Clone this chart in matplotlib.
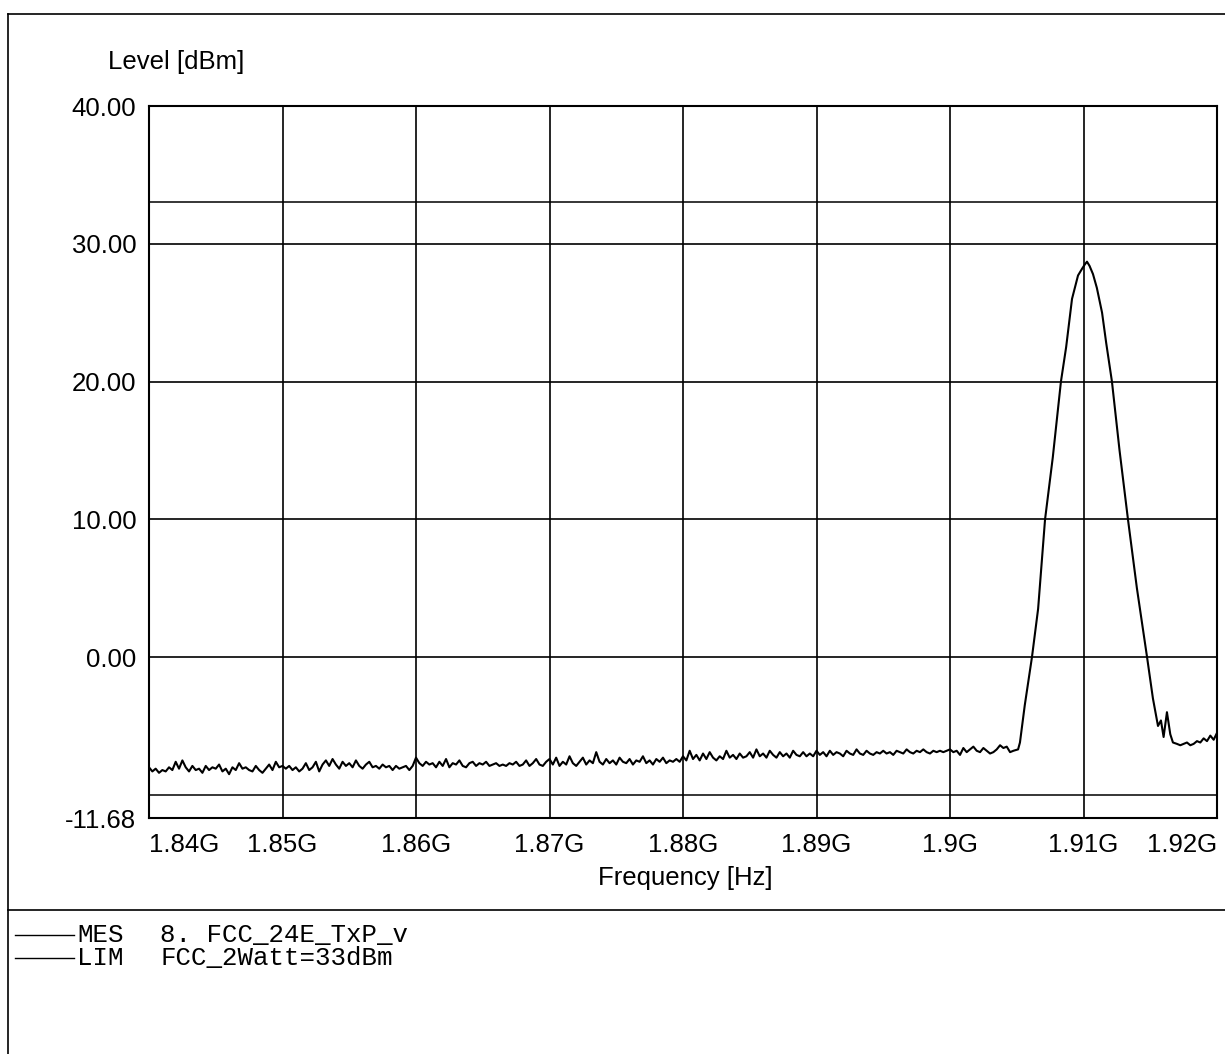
#!/usr/bin/python3

# Transmitter power sweep around 1.91 GHz with the FCC 2 W limit line

import matplotlib
matplotlib.use("Agg")
import matplotlib.pyplot as plt
from matplotlib.lines import Line2D
import numpy as np

# noise floor, 1.840 .. 1.905 GHz in 0.25 MHz steps
floor_start = 1.840e9
floor_step = 0.25e6
floor_level = [
    -8.0, -8.3, -8.1, -8.4, -8.2, -8.3, -8.0, -8.2, -7.6, -8.1, -7.5, -8.0, -8.3, -7.9, -8.2, -8.1, -8.4, -7.9, -8.2, -8.0,
    -8.1, -7.8, -8.3, -8.1, -8.5, -8.0, -8.2, -7.7, -8.1, -8.0, -8.2, -8.3, -7.9, -8.2, -8.4, -8.1, -7.8, -8.2, -7.6, -8.0,
    -7.9, -8.1, -7.9, -8.2, -8.0, -8.3, -8.1, -7.7, -8.2, -8.0, -7.6, -8.3, -7.8, -7.5, -7.9, -7.4, -7.8, -8.1, -7.6, -7.9,
    -7.7, -8.0, -7.5, -7.9, -8.1, -7.8, -7.6, -8.0, -7.9, -8.1, -7.8, -8.0, -7.9, -8.2, -7.9, -8.1, -8.0, -7.9, -8.2, -7.9,
    -7.3, -7.7, -7.9, -7.6, -7.8, -7.7, -8.0, -7.6, -7.9, -7.4, -8.0, -7.7, -7.8, -7.5, -7.9, -8.0, -7.7, -7.6, -7.9, -7.7,
    -7.8, -7.6, -7.9, -7.8, -7.7, -7.9, -7.8, -7.9, -7.7, -7.8, -7.6, -7.9, -7.8, -7.5, -7.9, -7.7, -7.4, -7.8, -7.9, -7.6,
    -7.4, -7.8, -7.3, -7.9, -7.6, -7.8, -7.2, -7.7, -7.9, -7.6, -7.3, -7.8, -7.5, -7.7, -6.9, -7.6, -7.8, -7.4, -7.7, -7.5,
    -7.8, -7.3, -7.6, -7.7, -7.4, -7.8, -7.5, -7.6, -7.2, -7.7, -7.5, -7.8, -7.4, -7.6, -7.3, -7.7, -7.5, -7.6, -7.4, -7.6,
    -7.2, -7.5, -6.8, -7.4, -7.1, -7.5, -7.0, -7.4, -6.9, -7.3, -7.5, -7.2, -7.4, -6.8, -7.3, -7.1, -7.4, -7.0, -7.3, -7.2,
    -6.9, -7.3, -6.7, -7.2, -7.0, -7.3, -6.8, -7.1, -7.3, -6.9, -7.2, -7.0, -7.3, -6.8, -7.1, -7.2, -6.9, -7.2, -7.0, -7.2,
    -6.8, -7.1, -6.9, -7.2, -6.8, -7.1, -6.9, -7.0, -7.2, -6.8, -7.0, -7.1, -6.7, -7.0, -7.1, -6.8, -7.0, -7.1, -6.9, -7.0,
    -6.8, -7.0, -6.9, -7.1, -6.8, -6.9, -7.0, -6.7, -6.9, -7.0, -6.8, -6.9, -6.7, -6.9, -7.0, -6.8, -6.9, -6.8, -6.9, -6.8,
    -6.7, -6.9, -6.8, -7.1, -6.6, -6.9, -6.7, -6.5, -6.8, -6.9, -6.6, -6.8, -7.0, -6.9, -6.7, -6.4, -6.6, -6.5, -6.9, -6.8,
]

# carrier and upper skirt
peak_freq = [
    1.90510e9, 1.90524e9, 1.90560e9, 1.90614e9, 1.90660e9, 1.90712e9, 1.90770e9, 1.90831e9,
    1.90870e9, 1.90914e9, 1.90959e9, 1.90990e9, 1.91010e9, 1.91026e9, 1.91045e9, 1.91071e9,
    1.91100e9, 1.91139e9, 1.91170e9, 1.91213e9, 1.91270e9, 1.91333e9, 1.91400e9, 1.91476e9,
    1.91520e9, 1.91558e9, 1.91580e9, 1.91600e9, 1.91625e9, 1.91650e9, 1.91670e9,
    1.91700e9, 1.91725e9, 1.91750e9, 1.91775e9, 1.91800e9, 1.91825e9, 1.91850e9, 1.91875e9,
    1.91900e9, 1.91925e9, 1.91950e9, 1.91975e9, 1.92000e9,
]
peak_level = [
    -6.7, -6.2, -3.5, 0.0, 3.5, 10.0, 14.5, 20.0,
    22.5, 26.0, 27.7, 28.2, 28.5, 28.7, 28.4, 27.8,
    26.8, 25.0, 22.8, 20.0, 15.0, 10.0, 5.0, 0.0,
    -3.0, -5.0, -4.6, -5.8, -4.0, -5.6, -6.2,
    -6.3, -6.4, -6.3, -6.2, -6.4, -6.3, -6.1, -6.2,
    -5.9, -6.1, -5.7, -6.0, -5.5,
]

limit_level = 33.0
lower_line = -10.0

xticks = [1.84e9, 1.85e9, 1.86e9, 1.87e9, 1.88e9, 1.89e9, 1.90e9, 1.91e9, 1.92e9]
xticklabels = ["1.84G", "1.85G", "1.86G", "1.87G", "1.88G", "1.89G", "1.9G", "1.91G", "1.92G"]
yticks = [-11.68, 0, 10, 20, 30, 40]
yticklabels = ["-11.68", "0.00", "10.00", "20.00", "30.00", "40.00"]

W, H = 1225, 1054
fig = plt.figure(figsize=(W / 100, H / 100), dpi=100)
plt.rcParams['font.family'] = ['Liberation Sans', 'DejaVu Sans']

# axes box in pixel terms
x0, x1, ytop, ybot = 149, 1217, 106, 818
ax = fig.add_axes([x0 / W, 1 - ybot / H, (x1 - x0) / W, (ybot - ytop) / H])

freq = list(floor_start + floor_step * np.arange(len(floor_level))) + peak_freq
level = floor_level + peak_level
ax.plot(freq, level, color="black", lw=1.5)

ax.axhline(limit_level, color="black", lw=1.1)
ax.axhline(lower_line, color="black", lw=1.1)

ax.set_xlim(1.84e9, 1.92e9)
ax.set_ylim(-11.68, 40)
ax.set_xticks(xticks)
ax.set_xticklabels(xticklabels)
ax.set_yticks(yticks)
ax.set_yticklabels(yticklabels)
ax.tick_params(length=0, labelsize=18.5, colors="black")
ax.tick_params(axis='x', pad=11)
ax.tick_params(axis='y', pad=9)
labs = ax.get_xticklabels()
labs[0].set_horizontalalignment("left")
labs[-1].set_horizontalalignment("right")

ax.grid(True, color="black", lw=1.2)
for s in ax.spines.values():
    s.set_linewidth(1.5)

fig.text(108 / W, 1 - 62 / H, "Level [dBm]", fontsize=18.5, va="center", ha="left")
fig.text(685 / W, 1 - 878 / H, "Frequency [Hz]", fontsize=18.5, va="center", ha="center")

# page frame and separator
fig.add_artist(Line2D([8 / W, 1.0], [1 - 14 / H, 1 - 14 / H], color="black", lw=1.2))
fig.add_artist(Line2D([8 / W, 8 / W], [0, 1 - 14 / H], color="black", lw=1.2))
fig.add_artist(Line2D([8 / W, 1.0], [1 - 910 / H, 1 - 910 / H], color="black", lw=1.2))

# trace legend
for yy, tag, name in [(935, "MES", "8. FCC_24E_TxP_v"), (958, "LIM", "FCC_2Watt=33dBm")]:
    fig.add_artist(Line2D([15 / W, 74 / W], [1 - yy / H, 1 - yy / H], color="black", lw=1))
    fig.text(77 / W, 1 - yy / H, tag, family="Liberation Mono", fontsize=18.5, va="center")
    fig.text(160 / W, 1 - yy / H, name, family="Liberation Mono", fontsize=18.5, va="center")

fig.savefig("out.png", dpi=100, facecolor="white")
